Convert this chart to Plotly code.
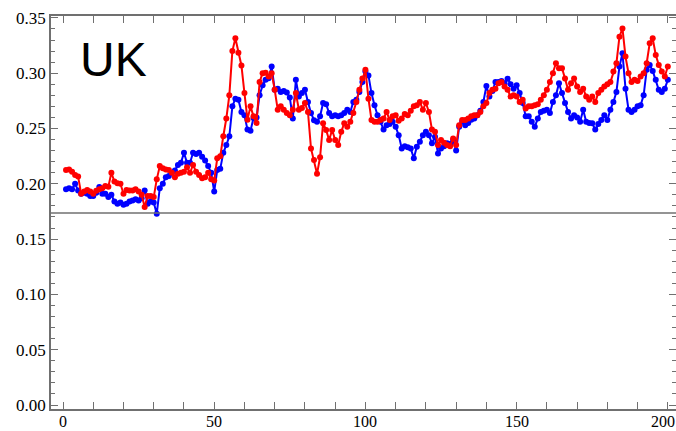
import plotly.graph_objects as go

# Index of each observation (1..200)
steps = list(range(1, 201))

# Blue series
blue_vals = [
    0.195, 0.196, 0.195, 0.200, 0.194, 0.191, 0.192, 0.191, 0.189, 0.189,
    0.192, 0.197, 0.191, 0.191, 0.188, 0.190, 0.184, 0.182, 0.183, 0.181,
    0.182, 0.184, 0.185, 0.186, 0.185, 0.187, 0.194, 0.182, 0.184, 0.183,
    0.173, 0.196, 0.200, 0.206, 0.207, 0.210, 0.212, 0.217, 0.219, 0.228,
    0.219, 0.219, 0.228, 0.227, 0.228, 0.2245, 0.221, 0.216, 0.210, 0.193,
    0.2125, 0.2135, 0.228, 0.235, 0.243, 0.270, 0.277, 0.276, 0.265, 0.262,
    0.249, 0.248, 0.2595, 0.260, 0.280, 0.289, 0.294, 0.2955, 0.306, 0.285,
    0.286, 0.283, 0.284, 0.2825, 0.278, 0.259, 0.294, 0.279, 0.282, 0.285,
    0.274, 0.264, 0.2575, 0.256, 0.261, 0.273, 0.272, 0.264, 0.261, 0.262,
    0.261, 0.262, 0.264, 0.267, 0.265, 0.274, 0.276, 0.283, 0.292, 0.3015,
    0.298, 0.282, 0.271, 0.262, 0.256, 0.249, 0.253, 0.254, 0.256, 0.2515,
    0.244, 0.232, 0.234, 0.233, 0.232, 0.223, 0.2335, 0.238, 0.244, 0.247,
    0.244, 0.2366, 0.2426, 0.2275, 0.232, 0.234, 0.2366, 0.236, 0.2396, 0.230,
    0.2516, 0.256, 0.253, 0.255, 0.258, 0.259, 0.262, 0.266, 0.274, 0.2885,
    0.279, 0.284, 0.292, 0.292, 0.293, 0.291, 0.295, 0.290, 0.286, 0.289,
    0.282, 0.273, 0.261, 0.261, 0.256, 0.2516, 0.259, 0.265, 0.266, 0.267,
    0.264, 0.274, 0.280, 0.291, 0.282, 0.273, 0.265, 0.259, 0.262, 0.260,
    0.256, 0.267, 0.256, 0.255, 0.2547, 0.249, 0.254, 0.2577, 0.262, 0.2577,
    0.267, 0.274, 0.283, 0.306, 0.318, 0.286, 0.267, 0.265, 0.267, 0.270,
    0.271, 0.280, 0.303, 0.3075, 0.302, 0.294, 0.285, 0.283, 0.286, 0.294,
]

# Red series
red_vals = [
    0.2125, 0.213, 0.211, 0.208, 0.2065, 0.191, 0.193, 0.1944, 0.193, 0.191,
    0.1938, 0.195, 0.196, 0.198, 0.1974, 0.210, 0.202, 0.2004, 0.200, 0.191,
    0.1944, 0.194, 0.194, 0.195, 0.193, 0.190, 0.179, 0.189, 0.189, 0.188,
    0.204, 0.216, 0.214, 0.213, 0.2125, 0.210, 0.206, 0.209, 0.210, 0.211,
    0.215, 0.210, 0.217, 0.211, 0.208, 0.205, 0.206, 0.210, 0.204, 0.203,
    0.223, 0.225, 0.243, 0.259, 0.280, 0.320, 0.3315, 0.3185, 0.307, 0.282,
    0.258, 0.270, 0.261, 0.255, 0.292, 0.300, 0.3005, 0.297, 0.300, 0.285,
    0.267, 0.270, 0.267, 0.264, 0.262, 0.267, 0.282, 0.267, 0.2685, 0.273,
    0.265, 0.232, 0.2215, 0.209, 0.224, 0.2547, 0.2487, 0.2396, 0.2487, 0.2396,
    0.235, 0.247, 0.2547, 0.2516, 0.256, 0.264, 0.274, 0.285, 0.2953, 0.303,
    0.277, 0.2577, 0.256, 0.256, 0.2577, 0.259, 0.265, 0.2577, 0.261, 0.262,
    0.257, 0.259, 0.263, 0.262, 0.266, 0.270, 0.271, 0.274, 0.267, 0.273,
    0.265, 0.249, 0.247, 0.235, 0.2396, 0.237, 0.235, 0.234, 0.241, 0.235,
    0.253, 0.2577, 0.2577, 0.259, 0.261, 0.262, 0.262, 0.265, 0.270, 0.273,
    0.282, 0.285, 0.286, 0.291, 0.292, 0.288, 0.285, 0.279, 0.280, 0.279,
    0.274, 0.276, 0.268, 0.270, 0.270, 0.271, 0.272, 0.276, 0.280, 0.285,
    0.292, 0.300, 0.309, 0.3045, 0.3045, 0.2953, 0.285, 0.291, 0.2953, 0.288,
    0.283, 0.286, 0.279, 0.276, 0.279, 0.274, 0.282, 0.285, 0.288, 0.290,
    0.292, 0.3015, 0.309, 0.333, 0.3405, 0.315, 0.300, 0.292, 0.294, 0.293,
    0.297, 0.300, 0.309, 0.327, 0.3315, 0.3165, 0.3075, 0.3015, 0.297, 0.306,
]

x_ticks = [0, 50, 100, 150, 200]
y_ticks = [0.00, 0.05, 0.10, 0.15, 0.20, 0.25, 0.30, 0.35]
axis_origin = 0.1736
panel_title = "UK"

frame_col = "#707070"
serif = "Liberation Serif, Times New Roman, serif"
y_range = [-0.0036, 0.3517]
x_range = [-3.97, 202.7]

fig = go.Figure()
for vals, col in [(blue_vals, "#0000ff"), (red_vals, "#ff0000")]:
    fig.add_trace(go.Scatter(
        x=steps, y=vals, mode="lines+markers",
        line=dict(color=col, width=2),
        marker=dict(color=col, size=6),
        showlegend=False, hoverinfo="skip",
    ))

# empty trace that keeps the right-hand tick axis alive
fig.add_trace(go.Scatter(x=[None], y=[None], yaxis="y2", showlegend=False,
                         hoverinfo="skip", mode="markers"))

# horizontal axis line drawn through the plot at the axis origin
fig.add_shape(type="line", xref="paper", x0=0, x1=1, yref="y",
              y0=axis_origin, y1=axis_origin,
              line=dict(color=frame_col, width=1.5), layer="above")

fig.add_annotation(x=5.0, y=0.312, xref="x", yref="y", text=panel_title,
                   showarrow=False, xanchor="left", yanchor="middle",
                   font=dict(family="Liberation Sans, Arial, sans-serif", size=48, color="black"))

# bottom tick labels, sitting on the lower edge of the figure
for v in x_ticks:
    last = v == x_ticks[-1]
    fig.add_annotation(
        x=1 if last else v, xref="paper" if last else "x",
        y=0, yref="paper", yshift=-22, yanchor="bottom",
        xanchor="right" if last else "center",
        text=str(v), showarrow=False, borderpad=0,
        font=dict(family=serif, size=16, color="black"),
    )

fig.update_layout(
    width=676, height=431,
    margin=dict(l=51, r=0, t=16, b=22, autoexpand=False),
    paper_bgcolor="white", plot_bgcolor="white",
    yaxis2=dict(
        overlaying="y", side="right", range=y_range, tickvals=y_ticks,
        showticklabels=False, showline=False, showgrid=False, zeroline=False,
        ticks="inside", ticklen=7, tickwidth=1, tickcolor=frame_col,
        minor=dict(ticks="inside", ticklen=4, tickwidth=1, tickcolor=frame_col,
                   dtick=0.01, tick0=0, showgrid=False),
        automargin=False,
    ),
)
fig.update_xaxes(
    range=x_range, tickvals=x_ticks, showticklabels=False,
    automargin=False,
    showgrid=False, zeroline=False,
    showline=True, linecolor=frame_col, linewidth=1.5, mirror="allticks",
    ticks="inside", ticklen=7, tickwidth=1, tickcolor=frame_col,
    minor=dict(ticks="inside", ticklen=4, tickwidth=1, tickcolor=frame_col,
               dtick=10, tick0=0, showgrid=False),
)
fig.update_yaxes(
    selector=dict(overlaying=None),
    range=y_range, tickvals=y_ticks, ticktext=[f"{v:.2f}" for v in y_ticks],
    automargin=False, ticklabeloverflow="allow",
    showgrid=False, zeroline=False,
    showline=True, linecolor=frame_col, linewidth=1.5, mirror=False,
    ticks="inside", ticklen=7, tickwidth=1, tickcolor=frame_col,
    minor=dict(ticks="inside", ticklen=4, tickwidth=1, tickcolor=frame_col,
               dtick=0.01, tick0=0, showgrid=False),
    tickfont=dict(family=serif, size=17, color="black"),
)

fig.write_html("out.html")
